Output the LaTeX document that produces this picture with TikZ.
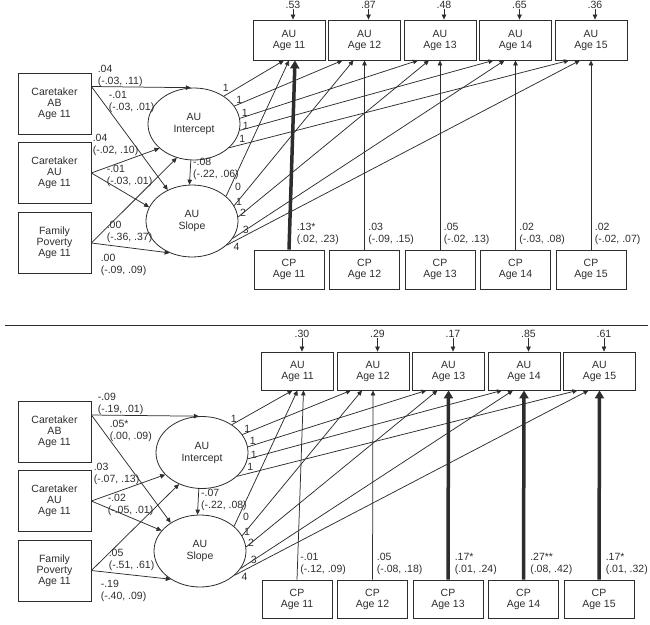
\documentclass[tikz,border=0pt]{standalone}
\usepackage{fontspec}
\setmainfont{Liberation Sans}
\usepackage{tikz}
\usetikzlibrary{arrows.meta}
\usetikzlibrary{shapes.geometric}
\usepackage{xcolor}
\definecolor{ColLine}{RGB}{45,45,45}
\tikzstyle{VarBox}=[draw=ColLine,line width=0.8pt,inner sep=0pt,minimum width=72pt,
minimum height=40pt,align=center,text=ColLine,font=\fontsize{10.5}{11}\selectfont]
\tikzstyle{CpBox}=[VarBox,minimum width=70pt,minimum height=39pt]
\tikzstyle{SideBox}=[VarBox,minimum width=73pt,minimum height=61pt]
\tikzstyle{Factor}=[ellipse,draw=ColLine,line width=0.8pt,inner sep=0pt,minimum width=92pt,
minimum height=72pt,align=center,text=ColLine,font=\fontsize{10.5}{12}\selectfont]
\tikzstyle{PathArrow}=[ColLine,line width=0.75pt,-{Triangle[length=5pt,width=4.5pt]}]
\tikzstyle{BoldArrow}=[ColLine,line width=3.5pt,-{Triangle[length=8pt,width=9pt]}]
\tikzstyle{Coef}=[inner sep=0pt,anchor=west,align=left,text=ColLine,
font=\fontsize{10.5}{12}\selectfont]
\tikzstyle{Load}=[inner sep=0pt,text=ColLine,font=\fontsize{10.5}{12}\selectfont]

\begin{document}
\begin{tikzpicture}[x=1pt,y=-1pt]
        \useasboundingbox (0,0) rectangle (650,624);
        % upper model
        \node[SideBox](ab)at(54.5,103.5){Caretaker\\AB\\Age 11};
        \node[SideBox](cau)at(54.5,173){Caretaker\\AU\\Age 11};
        \node[SideBox](pov)at(54.5,243){Family\\Poverty\\Age 11};
        \node[Factor](int)at(194,124){AU\\Intercept};
        \node[Factor](slo)at(192,221){AU\\Slope};
        \foreach \i/\k/\rv in {11/0/.53,12/1/.87,13/2/.48,14/3/.65,15/4/.36}{
            \node[VarBox](au\i)at(289+75.5*\k,40){AU\\Age \i};
            \node[CpBox](cp\i)at(289+75.5*\k,269.5){CP\\Age \i};
            \node[Load](r\i)at(293+75.5*\k,5){\rv};
            \draw[PathArrow](r\i)--(r\i |- au\i.north);
        }
        \foreach \i/\a/\o/\dx/\dy in {11/43/-5/2/8,12/24/-22/5/6,13/7/-22/5/5.5,14/-8/-22/6/4.5,15/-34/-22/13/9}
            \draw[PathArrow](int.\a)--([xshift=\o pt]au\i.south)node[Load,pos=0,xshift=\dx pt,yshift=\dy pt]{1};
        \foreach \i/\a/\o/\lab/\dx/\dy in {11/36/0/0/12/9,12/20/-11/1/5/4,13/5/-11/2/5/4,14/-23/-11/3/13/8,15/-35/-11/4/10/-2}
            \draw[PathArrow](slo.\a)--([xshift=\o pt]au\i.south)node[Load,pos=0,xshift=\dx pt,yshift=\dy pt]{\lab};
        \foreach \i/\o/\s/\dx/\c/\ci in {11/6/BoldArrow/6/.13*/{(.02, .23)},12/0/PathArrow/3.5/.03/{(-.09, .15)},
            13/0/PathArrow/3.5/.05/{(-.02, .13)},14/0/PathArrow/3.5/.02/{(-.03, .08)},15/0/PathArrow/3.5/.02/{(-.02, .07)}}
            \draw[\s](cp\i.north)--([xshift=\o pt]au\i.south)node[Coef,pos=0,xshift=\dx pt,yshift=16pt]{\c\\\ci};
        \draw[PathArrow]([yshift=17pt]ab.east)--(int.95)node[Coef,pos=0,xshift=6pt,yshift=11pt]{.04\\(-.03, .11)};
        \draw[PathArrow]([yshift=17pt]ab.east)--(slo.128)node[Coef,pos=0,xshift=17pt,yshift=-15.5pt]{-.01\\(-.03, .01)};
        \draw[PathArrow](cau.east)--(int.215)node[Coef,pos=0,xshift=1pt,yshift=28pt]{.04\\(-.02, .10)};
        \draw[PathArrow](cau.east)--(slo.162)node[Coef,pos=0,xshift=15pt,yshift=-3pt]{-.01\\(-.03, .01)};
        \draw[PathArrow](pov.east)--(int.243)node[Coef,pos=0,xshift=15pt,yshift=11pt]{.00\\(-.36, .37)};
        \draw[PathArrow](pov.east)--(slo.235)node[Coef,pos=0,xshift=9pt,yshift=-22pt]{.00\\(-.09, .09)};
        \draw[PathArrow](int.265)--(slo.94)node[Coef,pos=0,xshift=2pt,yshift=-9pt]{-.08\\(-.22, .06)};
        % rule between the models
        \draw[ColLine,line width=0.8pt](5,325)--(648,325);
        % lower model
        \begin{scope}[shift={(8.5,329)}]
        \node[SideBox](abB)at(46,102.5){Caretaker\\AB\\Age 11};
        \node[SideBox](cauB)at(46,172){Caretaker\\AU\\Age 11};
        \node[SideBox](povB)at(46,241.5){Family\\Poverty\\Age 11};
        \node[Factor](intB)at(193.5,123.5){AU\\Intercept};
        \node[Factor](sloB)at(191.5,222){AU\\Slope};
        \foreach \i/\k/\rv in {11/0/.30,12/1/.29,13/2/.17,14/3/.85,15/4/.61}{
            \node[VarBox,minimum height=38pt](auB\i)at(289+75.5*\k,42){AU\\Age \i};
            \node[CpBox,minimum height=38pt](cpB\i)at(288.5+75.5*\k,270){CP\\Age \i};
            \node[Load](rB\i)at(293.5+75.5*\k,5){\rv};
            \draw[PathArrow](rB\i)--(rB\i |- auB\i.north);
        }
        \foreach \i/\a/\o/\dx/\dy in {11/43/-5/2/6,12/24/-22/5/6,13/7/-22/5/5.5,14/-8/-22/6/4.5,15/-34/-22/13/9}
            \draw[PathArrow](intB.\a)--([xshift=\o pt]auB\i.south)node[Load,pos=0,xshift=\dx pt,yshift=\dy pt]{1};
        \foreach \i/\a/\o/\lab/\dx/\dy in {11/36/0/0/12/9,12/20/-11/1/5/4,13/5/-11/2/5/4,14/-23/-11/3/13/8,15/-35/-11/4/10/-2}
            \draw[PathArrow](sloB.\a)--([xshift=\o pt]auB\i.south)node[Load,pos=0,xshift=\dx pt,yshift=\dy pt]{\lab};
        \foreach \i/\o/\s/\dx/\c/\ci in {11/6/PathArrow/3/-.01/{(-.12, .09)},12/0/PathArrow/4/.05/{(-.08, .18)},
            13/0/BoldArrow/5/.17*/{(.01, .24)},14/0/BoldArrow/5/.27**/{(.08, .42)},15/0/BoldArrow/5/.17*/{(.01, .32)}}
            \draw[\s](cpB\i.north)--([xshift=\o pt]auB\i.south)node[Coef,pos=0,xshift=\dx pt,yshift=16pt]{\c\\\ci};
        \draw[PathArrow]([yshift=16.5pt]abB.east)--(intB.95)node[Coef,pos=0,xshift=6pt,yshift=11.5pt]{-.09\\(-.19, .01)};
        \draw[PathArrow]([yshift=16.5pt]abB.east)--(sloB.136)node[Coef,pos=0,xshift=18pt,yshift=-16pt]{.05*\\(.00, .09)};
        \draw[PathArrow](cauB.east)--(intB.211)node[Coef,pos=0,xshift=2pt,yshift=27pt]{.03\\(-.07, .13)};
        \draw[PathArrow](cauB.east)--(sloB.152)node[Coef,pos=0,xshift=16pt,yshift=-4pt]{-.02\\(-.05, .01)};
        \draw[PathArrow](povB.east)--(intB.234)node[Coef,pos=0,xshift=17pt,yshift=11pt]{.05\\(-.51, .61)};
        \draw[PathArrow](povB.east)--(sloB.224)node[Coef,pos=0,xshift=9pt,yshift=-20pt]{-.19\\(-.40, .09)};
        \draw[PathArrow](intB.265)--(sloB.94)node[Coef,pos=0,xshift=2pt,yshift=-11pt]{-.07\\(-.22, .08)};
        \end{scope}
    \end{tikzpicture}
\end{document}
